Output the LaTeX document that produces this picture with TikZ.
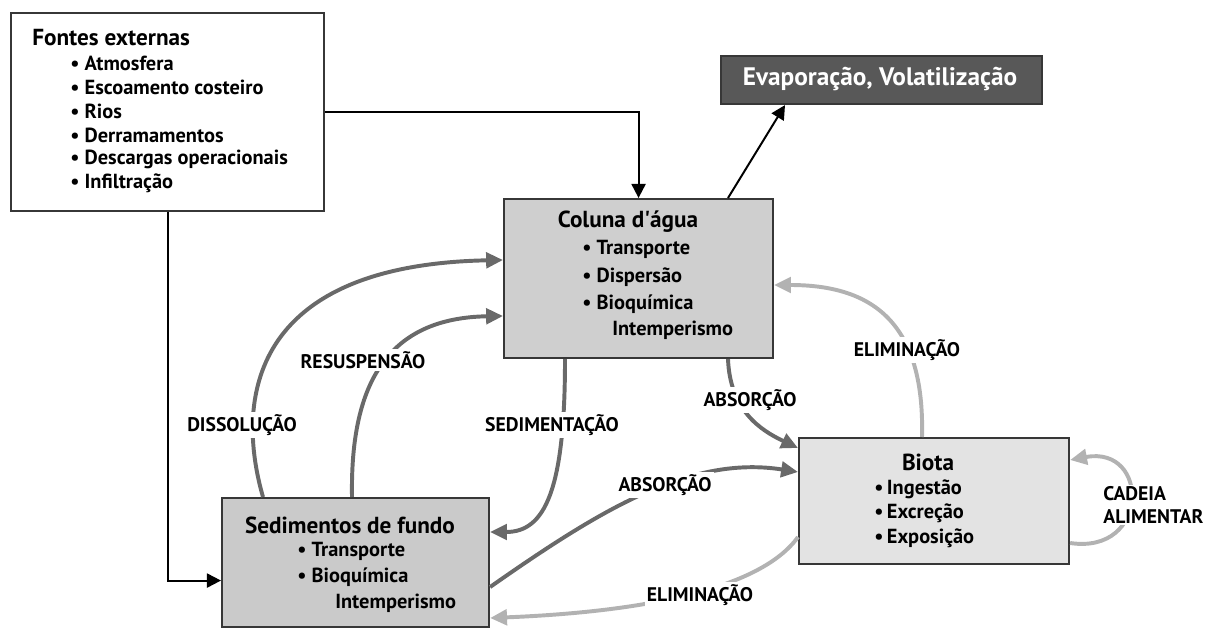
\documentclass[tikz,border=0pt]{standalone}
\usepackage{fontspec}
\setmainfont{PT Sans}
\usetikzlibrary{arrows.meta,positioning,calc}
\definecolor{boxEdge}{RGB}{55,55,55}
\definecolor{flowDark}{RGB}{105,105,105}
\definecolor{flowLight}{RGB}{178,178,178}
\definecolor{colFill}{RGB}{207,207,207}
\definecolor{sedFill}{RGB}{202,202,202}
\definecolor{biotaFill}{RGB}{227,227,227}
\definecolor{evapFill}{RGB}{88,88,88}
\newcommand\pxu{0.025cm}
\tikzset{
  compbox/.style={
    rectangle, draw=boxEdge, line width=1.5pt,
    fill=#1, anchor=north west, inner sep=0pt
  },
  boxtitle/.style={font=\fontsize{16.5}{18}\selectfont\bfseries, inner sep=0pt},
  boxitem/.style={font=\fontsize{14.5}{16}\selectfont\bfseries, anchor=west, inner sep=0pt},
  flowlabel/.style={font=\fontsize{14}{16}\selectfont\bfseries, fill=white, inner sep=1.5pt},
  feedarr/.style={-{Triangle[length=10pt,width=10pt]}, line width=1.4pt, black},
  flowarr/.style={-{Triangle[length=12pt,width=11pt]}, line width=2.8pt, #1},
}

\begin{document}
\begin{tikzpicture}[x=\pxu, y=-\pxu]
  \useasboundingbox (0,0) rectangle (1220,628);

  % caixas
  \node[compbox=white, minimum width=313*\pxu, minimum height=198*\pxu] (fontes) at (10,12) {};
  \node[compbox=evapFill, minimum width=321*\pxu, minimum height=48*\pxu] (evap) at (720,55) {};
  \node[compbox=colFill, minimum width=269*\pxu, minimum height=159*\pxu] (coluna) at (503,198) {};
  \node[compbox=sedFill, minimum width=267*\pxu, minimum height=129*\pxu] (sed) at (221,497) {};
  \node[compbox=biotaFill, minimum width=270*\pxu, minimum height=126*\pxu] (biota) at (798,437) {};

  % textos das caixas
  \node[boxtitle, anchor=west] (fontesT) at (32,38) {Fontes externas};
  \node[boxitem] (fAtm)  at (70,63)  {\textbullet~Atmosfera};
  \node[boxitem] (fEsc)  at (70,87)  {\textbullet~Escoamento costeiro};
  \node[boxitem] (fRio)  at (70,111) {\textbullet~Rios};
  \node[boxitem] (fDer)  at (70,135) {\textbullet~Derramamentos};
  \node[boxitem] (fDes)  at (70,159) {\textbullet~Descargas operacionais};
  \node[boxitem] (fInf)  at (70,183) {\textbullet~Infiltração};

  \node[boxtitle, text=white, font=\fontsize{18}{20}\selectfont\bfseries] (evapT) at (880,79) {Evaporação, Volatilização};

  \node[boxtitle] (colunaT) at (628,222) {Coluna d\textquotesingle água};
  \node[boxitem] (cTra) at (582,249) {\textbullet~Transporte};
  \node[boxitem] (cDis) at (582,277) {\textbullet~Dispersão};
  \node[boxitem] (cBio) at (582,304) {\textbullet~Bioquímica};
  \node[boxitem] (cInt) at (612,330) {Intemperismo};

  \node[boxtitle] (sedT) at (350,525) {Sedimentos de fundo};
  \node[boxitem] (sTra) at (297,551) {\textbullet~Transporte};
  \node[boxitem] (sBio) at (297,577) {\textbullet~Bioquímica};
  \node[boxitem] (sInt) at (335,603) {Intemperismo};

  \node[boxtitle] (biotaT) at (928,462) {Biota};
  \node[boxitem] (bIng) at (874,489) {\textbullet\,Ingestão};
  \node[boxitem] (bExc) at (874,513) {\textbullet\,Excreção};
  \node[boxitem] (bExp) at (874,538) {\textbullet\,Exposição};

  % entradas externas
  \draw[feedarr] (fontes.east) -| (coluna.north);
  \draw[feedarr] (fontes.south) |- ($(sed.west)+(0,18)$);
  \draw[feedarr] ($(coluna.north west)+(225,0)$) -- ($(evap.south west)+(65,0)$);

  % trocas coluna / sedimentos
  \draw[flowarr=flowDark] ($(sed.north west)+(42,0)$)
    .. controls (235,400) and (250,265) .. ($(coluna.north west)+(0,62)$);
  \draw[flowarr=flowDark] ($(sed.north west)+(131,0)$)
    .. controls (350,380) and (390,318) .. ($(coluna.north west)+(0,118)$);
  \draw[flowarr=flowDark] ($(coluna.south west)+(62,0)$)
    .. controls (565,490) and (545,532) .. ($(sed.north east)+(0,35)$);

  % absorcao
  \draw[flowarr=flowDark] ($(coluna.south west)+(225,0)$)
    .. controls (730,410) and (760,430) .. ($(biota.north west)+(0,11)$);
  \draw[flowarr=flowDark] ($(sed.north east)+(0,90)$)
    .. controls (600,510) and (690,455) .. ($(biota.north west)+(0,35)$);

  % eliminacao
  \draw[flowarr=flowLight] ($(biota.north west)+(124,0)$)
    .. controls (925,320) and (870,285) .. ($(coluna.north east)+(0,87)$);
  \draw[flowarr=flowLight] ($(biota.north west)+(0,100)$)
    .. controls (760,590) and (640,612) .. ($(sed.north east)+(0,121)$);
  \draw[flowarr=flowLight] ($(biota.north east)+(0,106)$)
    .. controls (1150,555) and (1150,445) .. ($(biota.north east)+(0,23)$);

  % rotulos
  \node[flowlabel] (lDis) at (242,425) {DISSOLUÇÃO};
  \node[flowlabel] (lRes) at (363,360) {RESUSPENSÃO};
  \node[flowlabel] (lSed) at (552,425) {SEDIMENTAÇÃO};
  \node[flowlabel] (lAbsC) at (750,400) {ABSORÇÃO};
  \node[flowlabel] (lAbsS) at (665,485) {ABSORÇÃO};
  \node[flowlabel] (lEliC) at (907,350) {ELIMINAÇÃO};
  \node[flowlabel] (lEliS) at (700,595) {ELIMINAÇÃO};
  \node[flowlabel, align=left, anchor=west] (lCad) at (1101,505) {CADEIA\\ALIMENTAR};
\end{tikzpicture}
\end{document}
